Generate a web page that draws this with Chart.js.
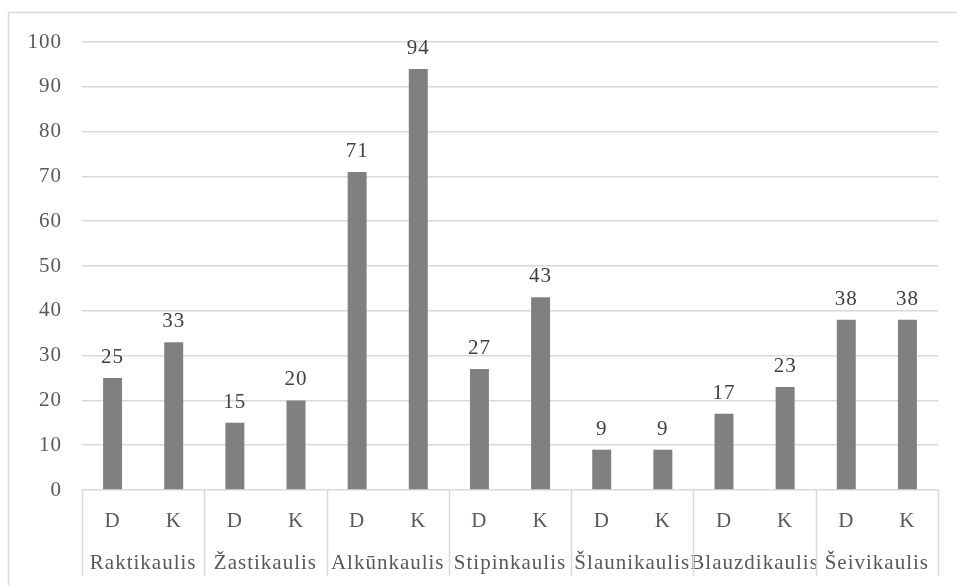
<!DOCTYPE html>
<html>
<head>
<meta charset="utf-8">
<script src="https://cdn.jsdelivr.net/npm/chart.js@4/dist/chart.umd.min.js"></script>
<style>
  html, body { margin: 0; padding: 0; background: #ffffff; }
  #wrap { width: 957px; height: 585px; }
</style>
</head>
<body>
<div id="wrap"><canvas id="c" width="957" height="585"></canvas></div>
<script>
// Bones (outer category level)
const groups = ['Raktikaulis', 'Žastikaulis', 'Alkūnkaulis', 'Stipinkaulis', 'Šlaunikaulis', 'Blauzdikaulis', 'Šeivikaulis'];
// Sides (inner category level)
const sides = ['D', 'K'];
// Counts per bone: D then K
const valuesD = [25, 15, 71, 27, 9, 17, 38];
const valuesK = [33, 20, 94, 43, 9, 23, 38];
// Y axis ticks
const yMin = 0, yMax = 100, yStep = 10;

const innerLabels = [];
const values = [];
groups.forEach((g, i) => {
  innerLabels.push(sides[0], sides[1]);
  values.push(valuesD[i], valuesK[i]);
});

const FONT = "'Liberation Serif', 'Times New Roman', serif";
const FONT_SIZE = 21;
const TEXT = '#595959';
const GRID = '#d9d9d9';

// Outer frame of the chart object, plus a slightly airy text setting
const framePlugin = {
  id: 'frame',
  beforeDraw(chart) {
    const ctx = chart.ctx;
    ctx.letterSpacing = '1px';
    ctx.save();
    ctx.fillStyle = '#ffffff';
    ctx.fillRect(0, 0, chart.width, chart.height);
    ctx.strokeStyle = GRID;
    ctx.lineWidth = 1.5;
    ctx.strokeRect(8.5, 12.5, chart.width + 20, chart.height + 20);
    ctx.restore();
  }
};

// Separators between the bone groups under the plot area
const groupLinesPlugin = {
  id: 'groupLines',
  afterDraw(chart) {
    const x = chart.scales.x, x2 = chart.scales.x2;
    const ctx = chart.ctx;
    ctx.save();
    ctx.strokeStyle = GRID;
    ctx.lineWidth = 1.5;
    for (let g = 0; g <= groups.length; g++) {
      let px;
      if (g === 0) px = x.left;
      else if (g === groups.length) px = x.right;
      else px = (x.getPixelForValue(2 * g - 1) + x.getPixelForValue(2 * g)) / 2;
      px = Math.round(px) + 0.5;
      ctx.beginPath();
      ctx.moveTo(px, x.top);
      ctx.lineTo(px, x2.bottom - 2);
      ctx.stroke();
    }
    ctx.restore();
  }
};

// Value labels above each bar
const valueLabelsPlugin = {
  id: 'valueLabels',
  afterDatasetsDraw(chart) {
    const ctx = chart.ctx;
    const meta = chart.getDatasetMeta(0);
    ctx.save();
    ctx.font = FONT_SIZE + 'px ' + FONT;
    ctx.fillStyle = '#404040';
    ctx.textAlign = 'center';
    ctx.textBaseline = 'bottom';
    meta.data.forEach((bar, i) => {
      ctx.fillText(String(chart.data.datasets[0].data[i]), bar.x, bar.y - 10);
    });
    ctx.restore();
  }
};

new Chart(document.getElementById('c'), {
  type: 'bar',
  data: {
    labels: innerLabels,
    datasets: [{
      data: values,
      backgroundColor: '#808080',
      borderWidth: 0,
      barPercentage: 0.31,
      categoryPercentage: 1.0
    }]
  },
  options: {
    responsive: false,
    animation: false,
    devicePixelRatio: 1,
    layout: { padding: { left: 8, right: 19, top: 42, bottom: 7 } },
    plugins: {
      legend: { display: false },
      tooltip: { enabled: false }
    },
    scales: {
      y: {
        min: yMin,
        max: yMax,
        afterFit(scale) { scale.width = 74; },
        ticks: {
          stepSize: yStep,
          padding: 20,
          color: TEXT,
          font: { family: FONT, size: FONT_SIZE }
        },
        grid: { color: GRID, lineWidth: 1.5, drawTicks: false },
        border: { display: false }
      },
      x: {
        position: 'bottom',
        afterFit(scale) { scale.height = 48; },
        ticks: {
          padding: 11,
          color: TEXT,
          maxRotation: 0,
          autoSkip: false,
          font: { family: FONT, size: FONT_SIZE }
        },
        grid: { display: false },
        border: { display: false }
      },
      x2: {
        type: 'category',
        position: 'bottom',
        labels: groups,
        offset: true,
        afterFit(scale) { scale.height = 40; },
        ticks: {
          padding: 5,
          color: TEXT,
          maxRotation: 0,
          autoSkip: false,
          font: { family: FONT, size: FONT_SIZE }
        },
        grid: { display: false },
        border: { display: false }
      }
    }
  },
  plugins: [framePlugin, groupLinesPlugin, valueLabelsPlugin]
});
</script>
</body>
</html>
